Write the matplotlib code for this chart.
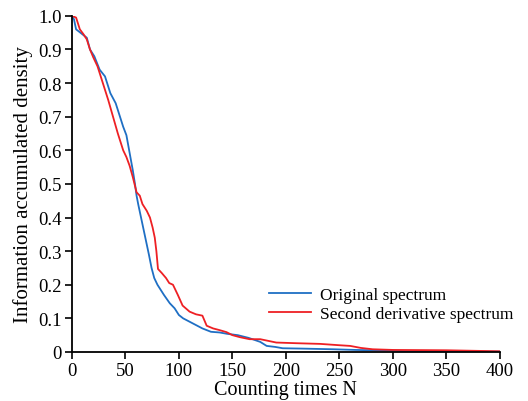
import matplotlib
matplotlib.use("Agg")
import matplotlib.pyplot as plt
from matplotlib.ticker import FuncFormatter

plt.rcParams['font.family'] = ['Liberation Serif', 'DejaVu Serif']

# Original spectrum (blue)
orig_n = [0, 2, 4, 8, 14, 17, 21, 26, 31, 36, 41, 45, 48, 51, 53, 55, 57, 59, 60.5, 62, 64, 66, 68, 70, 72, 74.5, 77, 80, 82, 86, 91.5, 96, 100, 104, 110, 116, 122, 130, 138, 145, 155, 165, 176, 182, 190, 197, 215, 244, 265, 281, 300, 312, 350, 400]
orig_v = [1.0, 0.99, 0.96, 0.95, 0.935, 0.90, 0.88, 0.84, 0.82, 0.77, 0.74, 0.70, 0.67, 0.645, 0.61, 0.575, 0.54, 0.50, 0.465, 0.44, 0.41, 0.38, 0.35, 0.32, 0.29, 0.25, 0.22, 0.20, 0.19, 0.17, 0.145, 0.13, 0.11, 0.10, 0.09, 0.08, 0.07, 0.06, 0.058, 0.054, 0.05, 0.042, 0.03, 0.018, 0.015, 0.011, 0.01, 0.008, 0.006, 0.005, 0.004, 0.002, 0.002, 0.001]

# Second derivative spectrum (red)
sec_n = [0, 4, 7.5, 11, 14, 17, 20, 24, 29, 34, 38.5, 43, 48, 51, 54, 57, 60.5, 63.5, 66, 70, 73, 75.5, 77.5, 79, 80.5, 84, 88, 91, 94.5, 99, 103.5, 110, 116, 122, 126, 132, 138, 144.5, 150, 157, 166, 176, 191, 210, 232, 250, 260, 270, 281, 300, 350, 400]
sec_v = [1.0, 0.995, 0.96, 0.945, 0.93, 0.90, 0.877, 0.85, 0.80, 0.75, 0.70, 0.65, 0.60, 0.58, 0.554, 0.52, 0.475, 0.465, 0.44, 0.42, 0.40, 0.37, 0.34, 0.30, 0.247, 0.235, 0.22, 0.205, 0.20, 0.17, 0.138, 0.12, 0.112, 0.108, 0.078, 0.07, 0.065, 0.059, 0.05, 0.044, 0.038, 0.038, 0.028, 0.026, 0.024, 0.02, 0.018, 0.012, 0.008, 0.006, 0.005, 0.002]

x_ticks = [0, 50, 100, 150, 200, 250, 300, 350, 400]
y_ticks = [0, 0.1, 0.2, 0.3, 0.4, 0.5, 0.6, 0.7, 0.8, 0.9, 1.0]

fig = plt.figure(figsize=(5.28, 4.02), dpi=100)
ax = fig.add_axes([0.136, 0.122, 0.811, 0.836])

ax.plot(orig_n, orig_v, color='#1f6fc4', lw=1.3, label='Original spectrum')
ax.plot(sec_n, sec_v, color='#ee2024', lw=1.3, label='Second derivative spectrum')

ax.set_xlim(0, 400)
ax.set_ylim(0, 1.0)
ax.set_xticks(x_ticks)
ax.set_yticks(y_ticks)

def yfmt(v, pos):
    return '0' if v == 0 else f'{v:.1f}'
ax.yaxis.set_major_formatter(FuncFormatter(yfmt))

ax.spines['top'].set_visible(False)
ax.spines['right'].set_visible(False)
for s in ('left', 'bottom'):
    ax.spines[s].set_linewidth(1.3)
ax.tick_params(direction='out', length=5, width=1.2, labelsize=13.5, pad=2)

ax.set_xlabel('Counting times N', fontsize=14.5, labelpad=1)
ax.set_ylabel('Information accumulated density', fontsize=15, labelpad=4)

ax.legend(loc='upper left', bbox_to_anchor=(0.445, 0.215), frameon=False,
          fontsize=12.5, handlelength=2.4, handletextpad=0.5, labelspacing=0.2,
          borderaxespad=0)

fig.savefig('out.png', dpi=100)
